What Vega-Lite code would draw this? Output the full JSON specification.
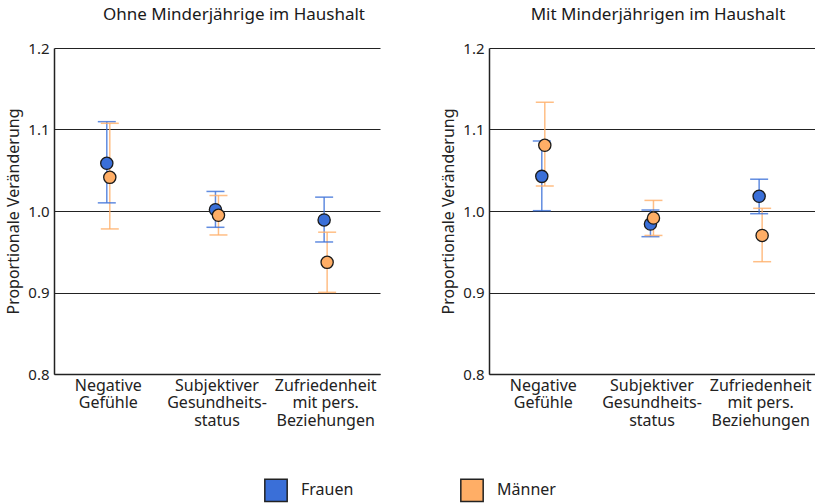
{
  "$schema": "https://vega.github.io/schema/vega-lite/v6.json",
  "padding": {"left": 5, "top": 6, "right": 0, "bottom": 0},
  "background": "white",
  "datasets": {
    "werte": [
      {"Haushalt": "Ohne", "Kategorie": "Negative|Gefühle", "Geschlecht": "Frauen", "Wert": 1.0585, "Unten": 1.010, "Oben": 1.1096},
      {"Haushalt": "Ohne", "Kategorie": "Negative|Gefühle", "Geschlecht": "Männer", "Wert": 1.0413, "Unten": 0.978, "Oben": 1.1076},
      {"Haushalt": "Ohne", "Kategorie": "Subjektiver|Gesundheits-|status", "Geschlecht": "Frauen", "Wert": 1.0016, "Unten": 0.980, "Oben": 1.024},
      {"Haushalt": "Ohne", "Kategorie": "Subjektiver|Gesundheits-|status", "Geschlecht": "Männer", "Wert": 0.9947, "Unten": 0.9706, "Oben": 1.019},
      {"Haushalt": "Ohne", "Kategorie": "Zufriedenheit|mit pers.|Beziehungen", "Geschlecht": "Frauen", "Wert": 0.989, "Unten": 0.962, "Oben": 1.017},
      {"Haushalt": "Ohne", "Kategorie": "Zufriedenheit|mit pers.|Beziehungen", "Geschlecht": "Männer", "Wert": 0.937, "Unten": 0.9002, "Oben": 0.974},
      {"Haushalt": "Mit", "Kategorie": "Negative|Gefühle", "Geschlecht": "Frauen", "Wert": 1.0425, "Unten": 1.0004, "Oben": 1.0859},
      {"Haushalt": "Mit", "Kategorie": "Negative|Gefühle", "Geschlecht": "Männer", "Wert": 1.0806, "Unten": 1.0307, "Oben": 1.1333},
      {"Haushalt": "Mit", "Kategorie": "Subjektiver|Gesundheits-|status", "Geschlecht": "Frauen", "Wert": 0.984, "Unten": 0.9685, "Oben": 1.0012},
      {"Haushalt": "Mit", "Kategorie": "Subjektiver|Gesundheits-|status", "Geschlecht": "Männer", "Wert": 0.9914, "Unten": 0.970, "Oben": 1.013},
      {"Haushalt": "Mit", "Kategorie": "Zufriedenheit|mit pers.|Beziehungen", "Geschlecht": "Frauen", "Wert": 1.018, "Unten": 0.9967, "Oben": 1.039},
      {"Haushalt": "Mit", "Kategorie": "Zufriedenheit|mit pers.|Beziehungen", "Geschlecht": "Männer", "Wert": 0.970, "Unten": 0.9378, "Oben": 1.0033}
    ]
  },
  "data": {"name": "werte"},
  "spacing": 60,
  "hconcat": [
    {
      "width": 326,
      "height": 326,
      "title": {"text": "Ohne Minderjährige im Haushalt", "dx": 17, "frame": "group", "anchor": "middle"},
      "transform": [{"filter": "datum.Haushalt === 'Ohne'"}],
      "encoding": {
        "x": {"field": "Kategorie", "type": "nominal", "sort": null, "scale": {"paddingInner": 0, "paddingOuter": 0}, "axis": {"title": null, "labelExpr": "split(datum.label, '|')", "labelAngle": 0}},
        "xOffset": {"field": "Geschlecht", "type": "nominal", "scale": {"type": "point", "domain": ["Frauen", "Männer"], "range": [51.3, 57.3]}}
      },
      "layer": [
        {"mark": {"type": "rule", "strokeWidth": 1.5, "opacity": 0.8}, "encoding": {"y": {"field": "Unten", "type": "quantitative"}, "y2": {"field": "Oben"}, "stroke": {"field": "Geschlecht", "type": "nominal", "scale": {"domain": ["Frauen", "Männer"], "range": ["#3a6fd8", "#ffae66"]}, "legend": null}}},
        {"mark": {"type": "tick", "size": 18, "thickness": 1.5, "opacity": 0.8, "strokeWidth": 0}, "encoding": {"y": {"field": "Unten", "type": "quantitative"}, "fill": {"field": "Geschlecht", "type": "nominal", "scale": {"domain": ["Frauen", "Männer"], "range": ["#3a6fd8", "#ffae66"]}, "legend": null}}},
        {"mark": {"type": "tick", "size": 18, "thickness": 1.5, "opacity": 0.8, "strokeWidth": 0}, "encoding": {"y": {"field": "Oben", "type": "quantitative"}, "fill": {"field": "Geschlecht", "type": "nominal", "scale": {"domain": ["Frauen", "Männer"], "range": ["#3a6fd8", "#ffae66"]}, "legend": null}}},
        {"mark": {"type": "point", "filled": true, "shape": "circle", "size": 150, "stroke": "#1a1a1a", "strokeWidth": 1.3, "opacity": 1}, "encoding": {"y": {"field": "Wert", "type": "quantitative", "title": "Proportionale Veränderung", "scale": {"domain": [0.8, 1.2], "nice": false, "zero": false}, "axis": {"values": [0.8, 0.9, 1.0, 1.1, 1.2], "format": ".1f"}}, "color": {"field": "Geschlecht", "type": "nominal", "legend": {"encode": {"symbols": {"update": {"stroke": {"value": "#222"}, "strokeWidth": {"value": 1.5}, "opacity": {"value": 1}}}}}}}}
      ]
    },
    {
      "width": 326,
      "height": 326,
      "title": {"text": "Mit Minderjährigen im Haushalt", "dx": 6, "frame": "group", "anchor": "middle"},
      "transform": [{"filter": "datum.Haushalt === 'Mit'"}],
      "encoding": {
        "x": {"field": "Kategorie", "type": "nominal", "sort": null, "scale": {"paddingInner": 0, "paddingOuter": 0}, "axis": {"title": null, "labelExpr": "split(datum.label, '|')", "labelAngle": 0}},
        "xOffset": {"field": "Geschlecht", "type": "nominal", "scale": {"type": "point", "domain": ["Frauen", "Männer"], "range": [51.3, 57.3]}}
      },
      "layer": [
        {"mark": {"type": "rule", "strokeWidth": 1.5, "opacity": 0.8}, "encoding": {"y": {"field": "Unten", "type": "quantitative"}, "y2": {"field": "Oben"}, "stroke": {"field": "Geschlecht", "type": "nominal", "scale": {"domain": ["Frauen", "Männer"], "range": ["#3a6fd8", "#ffae66"]}, "legend": null}}},
        {"mark": {"type": "tick", "size": 18, "thickness": 1.5, "opacity": 0.8, "strokeWidth": 0}, "encoding": {"y": {"field": "Unten", "type": "quantitative"}, "fill": {"field": "Geschlecht", "type": "nominal", "scale": {"domain": ["Frauen", "Männer"], "range": ["#3a6fd8", "#ffae66"]}, "legend": null}}},
        {"mark": {"type": "tick", "size": 18, "thickness": 1.5, "opacity": 0.8, "strokeWidth": 0}, "encoding": {"y": {"field": "Oben", "type": "quantitative"}, "fill": {"field": "Geschlecht", "type": "nominal", "scale": {"domain": ["Frauen", "Männer"], "range": ["#3a6fd8", "#ffae66"]}, "legend": null}}},
        {"mark": {"type": "point", "filled": true, "shape": "circle", "size": 150, "stroke": "#1a1a1a", "strokeWidth": 1.3, "opacity": 1}, "encoding": {"y": {"field": "Wert", "type": "quantitative", "title": "Proportionale Veränderung", "scale": {"domain": [0.8, 1.2], "nice": false, "zero": false}, "axis": {"values": [0.8, 0.9, 1.0, 1.1, 1.2], "format": ".1f"}}, "color": {"field": "Geschlecht", "type": "nominal", "legend": {"encode": {"symbols": {"update": {"stroke": {"value": "#222"}, "strokeWidth": {"value": 1.5}, "opacity": {"value": 1}}}}}}}}
      ]
    }
  ],
  "resolve": {"scale": {"color": "shared", "stroke": "shared", "fill": "shared"}},
  "config": {
    "font": "Noto Sans",
    "view": {"stroke": null},
    "range": {"category": ["#3a6fd8", "#ffae66"]},
    "title": {"fontSize": 17, "fontWeight": "normal", "color": "#1a1a1a", "offset": 17},
    "axis": {"labelFontSize": 15, "labelColor": "#222", "titleFontSize": 16, "titleFontWeight": "normal", "titleColor": "#222", "ticks": false, "domainColor": "#222", "domainWidth": 1.5, "gridColor": "#222", "gridWidth": 1, "gridOpacity": 1},
    "axisX": {"grid": false, "labelFontSize": 16, "labelPadding": 3, "labelLineHeight": 17.5, "labelBaseline": "top"},
    "axisY": {"labelPadding": 5, "titlePadding": 6},
    "legend": {
      "orient": "bottom", "offset": 50, "layout": {"bottom": {"anchor": "middle"}}, "direction": "horizontal", "columns": 2, "columnPadding": 103,
      "title": null, "symbolType": "square", "symbolSize": 500, "symbolStrokeColor": "#222", "symbolStrokeWidth": 1.5, "symbolOpacity": 1,
      "labelFontSize": 16, "labelColor": "#222", "labelOffset": 13
    }
  }
}
